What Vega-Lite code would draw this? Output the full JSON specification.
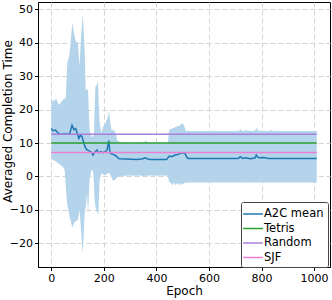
{
  "$schema": "https://vega.github.io/schema/vega-lite/v6.json",
  "width": 292,
  "height": 265,
  "autosize": {"type": "none"},
  "padding": {"left": 38, "top": 2, "right": 2, "bottom": 33},
  "background": "white",
  "config": {
    "font": "DejaVu Sans",
    "view": {"stroke": "black", "strokeWidth": 1},
    "axis": {
      "labelFont": "DejaVu Sans", "titleFont": "DejaVu Sans",
      "labelFontSize": 11, "titleFontSize": 12, "titleFontWeight": "normal",
      "labelColor": "black", "titleColor": "black", "labelOverlap": false,
      "tickColor": "black", "tickSize": 3.5, "labelPadding": 2,
      "domainColor": "black",
      "grid": true, "gridColor": "#d4d4d4", "gridDash": [5, 3], "gridWidth": 1
    },
    "legend": {"labelFont": "DejaVu Sans", "labelFontSize": 11.5, "labelColor": "black"}
  },
  "datasets": {
    "band": [
      {"epoch": 0, "lower": 5.4, "upper": 23.2},
      {"epoch": 6, "lower": 5.0, "upper": 22.4},
      {"epoch": 19, "lower": 4.4, "upper": 23.2},
      {"epoch": 29, "lower": 3.8, "upper": 21.4},
      {"epoch": 44, "lower": 2.9, "upper": 22.9},
      {"epoch": 51, "lower": 1.9, "upper": 23.3},
      {"epoch": 55, "lower": -3.0, "upper": 23.6},
      {"epoch": 61, "lower": -8.5, "upper": 33.9},
      {"epoch": 70, "lower": -12.1, "upper": 36.9},
      {"epoch": 80, "lower": -15.3, "upper": 45.9},
      {"epoch": 89, "lower": -13.6, "upper": 41.9},
      {"epoch": 95, "lower": -13.3, "upper": 40.1},
      {"epoch": 101, "lower": -13.1, "upper": 40.4},
      {"epoch": 108, "lower": -10.1, "upper": 32.9},
      {"epoch": 114, "lower": -17.1, "upper": 42.9},
      {"epoch": 120, "lower": -23.1, "upper": 48.4},
      {"epoch": 127, "lower": -11.1, "upper": 37.9},
      {"epoch": 131, "lower": -9.1, "upper": 25.9},
      {"epoch": 136, "lower": -5.1, "upper": 26.0},
      {"epoch": 140, "lower": -11.6, "upper": 26.1},
      {"epoch": 144, "lower": -4.0, "upper": 16.9},
      {"epoch": 146, "lower": -1.1, "upper": 14.0},
      {"epoch": 153, "lower": 1.9, "upper": 11.9},
      {"epoch": 159, "lower": 1.8, "upper": 11.9},
      {"epoch": 162, "lower": -2.0, "upper": 12.5},
      {"epoch": 165, "lower": -7.1, "upper": 20.0},
      {"epoch": 168, "lower": -9.0, "upper": 26.9},
      {"epoch": 174, "lower": -10.6, "upper": 27.5},
      {"epoch": 178, "lower": -11.2, "upper": 28.4},
      {"epoch": 179, "lower": -11.6, "upper": 25.0},
      {"epoch": 182, "lower": -5.0, "upper": 18.9},
      {"epoch": 184, "lower": -1.1, "upper": 16.0},
      {"epoch": 191, "lower": 0.9, "upper": 12.9},
      {"epoch": 197, "lower": 0.6, "upper": 14.9},
      {"epoch": 207, "lower": 0.4, "upper": 15.9},
      {"epoch": 216, "lower": 1.1, "upper": 18.0},
      {"epoch": 220, "lower": 0.9, "upper": 19.6},
      {"epoch": 223, "lower": 0.7, "upper": 17.0},
      {"epoch": 229, "lower": 0.0, "upper": 13.9},
      {"epoch": 235, "lower": -1.4, "upper": 13.8},
      {"epoch": 242, "lower": -1.0, "upper": 13.7},
      {"epoch": 248, "lower": -0.6, "upper": 12.0},
      {"epoch": 250, "lower": -0.3, "upper": 10.9},
      {"epoch": 260, "lower": 0.1, "upper": 10.3},
      {"epoch": 280, "lower": 0.2, "upper": 10.0},
      {"epoch": 300, "lower": 0.3, "upper": 10.1},
      {"epoch": 320, "lower": 0.2, "upper": 10.0},
      {"epoch": 340, "lower": 0.3, "upper": 10.1},
      {"epoch": 355, "lower": 0.0, "upper": 10.4},
      {"epoch": 360, "lower": 0.3, "upper": 10.8},
      {"epoch": 365, "lower": 0.2, "upper": 10.2},
      {"epoch": 380, "lower": 0.3, "upper": 10.0},
      {"epoch": 400, "lower": 0.2, "upper": 10.1},
      {"epoch": 420, "lower": 0.3, "upper": 10.0},
      {"epoch": 444, "lower": 0.2, "upper": 10.1},
      {"epoch": 448, "lower": -1.6, "upper": 13.8},
      {"epoch": 455, "lower": -2.0, "upper": 14.2},
      {"epoch": 460, "lower": -2.6, "upper": 14.4},
      {"epoch": 466, "lower": -1.8, "upper": 14.5},
      {"epoch": 472, "lower": -2.6, "upper": 14.8},
      {"epoch": 480, "lower": -1.9, "upper": 15.0},
      {"epoch": 488, "lower": -2.6, "upper": 15.2},
      {"epoch": 495, "lower": -2.0, "upper": 15.7},
      {"epoch": 500, "lower": -2.5, "upper": 15.9},
      {"epoch": 506, "lower": -2.0, "upper": 15.0},
      {"epoch": 512, "lower": -1.8, "upper": 13.6},
      {"epoch": 600, "lower": -1.8, "upper": 13.6},
      {"epoch": 700, "lower": -1.8, "upper": 13.6},
      {"epoch": 714, "lower": -1.8, "upper": 13.6},
      {"epoch": 719, "lower": -1.9, "upper": 14.2},
      {"epoch": 726, "lower": -1.8, "upper": 13.6},
      {"epoch": 740, "lower": -1.8, "upper": 13.8},
      {"epoch": 760, "lower": -1.8, "upper": 13.6},
      {"epoch": 775, "lower": -1.8, "upper": 13.7},
      {"epoch": 780, "lower": -1.9, "upper": 14.6},
      {"epoch": 787, "lower": -1.8, "upper": 13.7},
      {"epoch": 830, "lower": -1.8, "upper": 13.6},
      {"epoch": 837, "lower": -1.8, "upper": 13.9},
      {"epoch": 845, "lower": -1.8, "upper": 13.6},
      {"epoch": 900, "lower": -1.8, "upper": 13.6},
      {"epoch": 1000, "lower": -1.8, "upper": 13.6},
      {"epoch": 1010, "lower": -1.8, "upper": 13.6}
    ],
    "lines": [
      {"series": "A2C mean", "epoch": 0, "value": 14.4},
      {"series": "A2C mean", "epoch": 6, "value": 13.7},
      {"series": "A2C mean", "epoch": 16, "value": 13.9},
      {"series": "A2C mean", "epoch": 25, "value": 13.1},
      {"series": "A2C mean", "epoch": 32, "value": 12.6},
      {"series": "A2C mean", "epoch": 45, "value": 12.7},
      {"series": "A2C mean", "epoch": 60, "value": 12.7},
      {"series": "A2C mean", "epoch": 70, "value": 12.8},
      {"series": "A2C mean", "epoch": 79, "value": 15.3},
      {"series": "A2C mean", "epoch": 86, "value": 14.0},
      {"series": "A2C mean", "epoch": 93, "value": 14.3},
      {"series": "A2C mean", "epoch": 99, "value": 12.9},
      {"series": "A2C mean", "epoch": 105, "value": 11.4},
      {"series": "A2C mean", "epoch": 111, "value": 12.4},
      {"series": "A2C mean", "epoch": 117, "value": 11.9},
      {"series": "A2C mean", "epoch": 123, "value": 10.2},
      {"series": "A2C mean", "epoch": 128, "value": 9.0},
      {"series": "A2C mean", "epoch": 134, "value": 8.1},
      {"series": "A2C mean", "epoch": 142, "value": 7.7},
      {"series": "A2C mean", "epoch": 149, "value": 7.4},
      {"series": "A2C mean", "epoch": 155, "value": 7.0},
      {"series": "A2C mean", "epoch": 159, "value": 6.4},
      {"series": "A2C mean", "epoch": 165, "value": 7.2},
      {"series": "A2C mean", "epoch": 170, "value": 7.6},
      {"series": "A2C mean", "epoch": 174, "value": 7.9},
      {"series": "A2C mean", "epoch": 178, "value": 7.3},
      {"series": "A2C mean", "epoch": 182, "value": 7.1},
      {"series": "A2C mean", "epoch": 189, "value": 7.4},
      {"series": "A2C mean", "epoch": 197, "value": 7.1},
      {"series": "A2C mean", "epoch": 205, "value": 7.4},
      {"series": "A2C mean", "epoch": 212, "value": 7.9},
      {"series": "A2C mean", "epoch": 216, "value": 9.5},
      {"series": "A2C mean", "epoch": 219, "value": 10.7},
      {"series": "A2C mean", "epoch": 222, "value": 8.0},
      {"series": "A2C mean", "epoch": 225, "value": 6.9},
      {"series": "A2C mean", "epoch": 235, "value": 6.6},
      {"series": "A2C mean", "epoch": 245, "value": 6.2},
      {"series": "A2C mean", "epoch": 252, "value": 5.7},
      {"series": "A2C mean", "epoch": 258, "value": 5.3},
      {"series": "A2C mean", "epoch": 286, "value": 5.2},
      {"series": "A2C mean", "epoch": 324, "value": 5.1},
      {"series": "A2C mean", "epoch": 345, "value": 5.2},
      {"series": "A2C mean", "epoch": 358, "value": 5.6},
      {"series": "A2C mean", "epoch": 365, "value": 5.3},
      {"series": "A2C mean", "epoch": 375, "value": 5.1},
      {"series": "A2C mean", "epoch": 439, "value": 5.1},
      {"series": "A2C mean", "epoch": 449, "value": 6.1},
      {"series": "A2C mean", "epoch": 458, "value": 5.9},
      {"series": "A2C mean", "epoch": 471, "value": 6.4},
      {"series": "A2C mean", "epoch": 483, "value": 6.6},
      {"series": "A2C mean", "epoch": 496, "value": 7.1},
      {"series": "A2C mean", "epoch": 505, "value": 7.0},
      {"series": "A2C mean", "epoch": 509, "value": 6.9},
      {"series": "A2C mean", "epoch": 515, "value": 5.8},
      {"series": "A2C mean", "epoch": 521, "value": 5.4},
      {"series": "A2C mean", "epoch": 712, "value": 5.4},
      {"series": "A2C mean", "epoch": 719, "value": 5.9},
      {"series": "A2C mean", "epoch": 728, "value": 5.4},
      {"series": "A2C mean", "epoch": 738, "value": 5.6},
      {"series": "A2C mean", "epoch": 757, "value": 5.3},
      {"series": "A2C mean", "epoch": 775, "value": 5.5},
      {"series": "A2C mean", "epoch": 780, "value": 6.4},
      {"series": "A2C mean", "epoch": 786, "value": 5.7},
      {"series": "A2C mean", "epoch": 792, "value": 5.6},
      {"series": "A2C mean", "epoch": 808, "value": 5.7},
      {"series": "A2C mean", "epoch": 827, "value": 5.4},
      {"series": "A2C mean", "epoch": 1010, "value": 5.4},
      {"series": "Tetris", "epoch": 0, "value": 10.0},
      {"series": "Tetris", "epoch": 1010, "value": 10.0},
      {"series": "Random", "epoch": 0, "value": 12.6},
      {"series": "Random", "epoch": 1010, "value": 12.6},
      {"series": "SJF", "epoch": 0, "value": 7.2},
      {"series": "SJF", "epoch": 1010, "value": 7.2}
    ]
  },
  "encoding": {
    "x": {
      "field": "epoch", "type": "quantitative",
      "scale": {"domain": [-50.5, 1060.5], "nice": false, "zero": false},
      "axis": {"values": [0, 200, 400, 600, 800, 1000], "format": "d", "title": "Epoch", "titlePadding": 2}
    }
  },
  "layer": [
    {
      "data": {"name": "band"},
      "mark": {"type": "area", "color": "#b3d4ea", "opacity": 1},
      "encoding": {
        "y": {
          "field": "upper", "type": "quantitative",
          "scale": {"domain": [-27.1, 52.2], "nice": false, "zero": false},
          "axis": {"values": [-20, -10, 0, 10, 20, 30, 40, 50], "labelOverlap": false, "title": "Averaged Completion Time", "titleX": -24, "titleY": 119}
        },
        "y2": {"field": "lower"}
      }
    },
    {
      "data": {"name": "lines"},
      "mark": {"type": "line", "strokeWidth": 1.5},
      "encoding": {
        "y": {
          "field": "value", "type": "quantitative",
          "scale": {"domain": [-27.1, 52.2], "nice": false, "zero": false},
          "axis": {"values": [-20, -10, 0, 10, 20, 30, 40, 50], "labelOverlap": false, "title": "Averaged Completion Time", "titleX": -24, "titleY": 119}
        },
        "order": {"field": "epoch", "type": "quantitative"},
        "color": {
          "field": "series", "type": "nominal",
          "scale": {"domain": ["A2C mean", "Tetris", "Random", "SJF"], "range": ["#1f77b4", "#2ca02c", "#a880dc", "#ee7fd4"]},
          "legend": {
            "title": null, "orient": "none", "legendX": 203, "legendY": 200,
            "symbolType": "M-1.4,0H1.4", "symbolSize": 200, "symbolStrokeWidth": 1.5,
            "labelOffset": 3, "rowPadding": 0.5,
            "fillColor": "white", "strokeColor": "#444", "padding": 4, "cornerRadius": 2
          }
        }
      }
    }
  ]
}
